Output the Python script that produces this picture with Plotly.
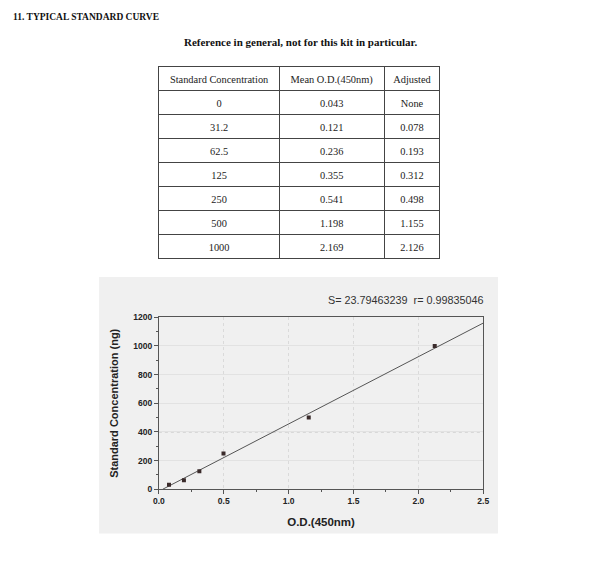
import plotly.graph_objects as go

# ---- data ----
std_conc = ["0", "31.2", "62.5", "125", "250", "500", "1000"]
mean_od = ["0.043", "0.121", "0.236", "0.355", "0.541", "1.198", "2.169"]
adjusted = ["None", "0.078", "0.193", "0.312", "0.498", "1.155", "2.126"]
table_headers = ["Standard Concentration", "Mean O.D.(450nm)", "Adjusted"]

point_od = [0.078, 0.193, 0.312, 0.498, 1.155, 2.126]
point_conc = [31.2, 62.5, 125, 250, 500, 1000]

fit_od = [0.03, 2.5]
fit_conc = [0, 1160]

x_ticks = [0.0, 0.5, 1.0, 1.5, 2.0, 2.5]
x_tick_labels = ["0.0", "0.5", "1.0", "1.5", "2.0", "2.5"]
y_ticks = [0, 200, 400, 600, 800, 1000, 1200]

W, H = 600, 561

def px_x(v):
    return v / W

def px_y(v):
    return 1 - v / H

fig = go.Figure()

table_font = dict(family="Liberation Serif", size=10.4, color="#222")

# table
fig.add_trace(go.Table(
    domain=dict(x=[px_x(156), px_x(443)], y=[px_y(260), px_y(63)]),
    columnwidth=[123, 107, 57],
    header=dict(values=table_headers, height=24, align="center",
                fill_color="white", line=dict(color="#444", width=1),
                font=table_font),
    cells=dict(values=[std_conc, mean_od, adjusted], height=24, align="center",
               fill_color="white", line=dict(color="#444", width=1),
               font=table_font),
))

# fit line
fig.add_trace(go.Scatter(x=fit_od, y=fit_conc, mode="lines",
                         line=dict(color="#555", width=1), showlegend=False,
                         hoverinfo="skip"))
# points
fig.add_trace(go.Scatter(x=point_od, y=point_conc, mode="markers",
                         marker=dict(color="#3a2b2b", size=4, symbol="square"),
                         showlegend=False))

axis_font = dict(family="Liberation Sans", size=8.5, color="#222", weight="bold")

fig.update_layout(
    width=W, height=H,
    margin=dict(l=0, r=0, t=0, b=0),
    paper_bgcolor="white",
    plot_bgcolor="white",
    showlegend=False,
    xaxis=dict(
        domain=[px_x(156), px_x(487)], range=[0, 2.5],
        tickvals=x_ticks, ticktext=x_tick_labels,
        tickfont=axis_font, ticks="outside", ticklen=4, tickcolor="#555",
        minor=dict(dtick=0.25, ticks="outside", ticklen=2, tickcolor="#555", showgrid=False),
        showline=True, linecolor="#555", linewidth=1, mirror=True,
        showgrid=True, gridcolor="#dadada", griddash="dot", gridwidth=1,
        zeroline=False,
        title=dict(text="O.D.(450nm)", standoff=12,
                   font=dict(family="Liberation Sans", size=11.5, color="#222", weight="bold")),
    ),
    yaxis=dict(
        domain=[px_y(493), px_y(318)], range=[0, 1200],
        tickvals=y_ticks,
        tickfont=axis_font, ticks="outside", ticklen=4, tickcolor="#555",
        minor=dict(dtick=100, ticks="outside", ticklen=2, tickcolor="#555", showgrid=False),
        showline=True, linecolor="#555", linewidth=1, mirror=True,
        showgrid=True, gridcolor="#e2e2e2", gridwidth=1,
        zeroline=False,
        title=dict(text="Standard Concentration (ng)", standoff=12,
                   font=dict(family="Liberation Sans", size=11, color="#222", weight="bold")),
    ),
    shapes=[
        dict(type="rect", xref="paper", yref="paper", layer="below",
             x0=px_x(95), x1=px_x(502), y0=px_y(538), y1=px_y(277),
             fillcolor="#f0f0f0", line=dict(width=0)),
        dict(type="line", xref="x domain", yref="y", layer="below",
             x0=0, x1=1, y0=400, y1=400,
             line=dict(color="#b5b5b5", width=1, dash="dot")),
    ],
    annotations=[
        dict(text="<b>11. TYPICAL STANDARD CURVE</b>", xref="paper", yref="paper",
             x=px_x(5), y=px_y(12), xanchor="left", yanchor="middle", showarrow=False,
             font=dict(family="Liberation Serif", size=9.5, color="#111")),
        dict(text="<b>Reference in general, not for this kit in particular.</b>",
             xref="paper", yref="paper", x=px_x(300), y=px_y(38),
             xanchor="center", yanchor="middle", showarrow=False,
             font=dict(family="Liberation Serif", size=11, color="#111")),
        dict(text="S= 23.79463239&nbsp;&nbsp;r= 0.99835046", xref="paper", yref="paper",
             x=px_x(490), y=px_y(300), xanchor="right", yanchor="middle", showarrow=False,
             font=dict(family="Liberation Sans", size=10.8, color="#333")),
    ],
)

fig.write_html("out.html", config={"displayModeBar": False},
               post_script="document.body.style.margin='0';")
